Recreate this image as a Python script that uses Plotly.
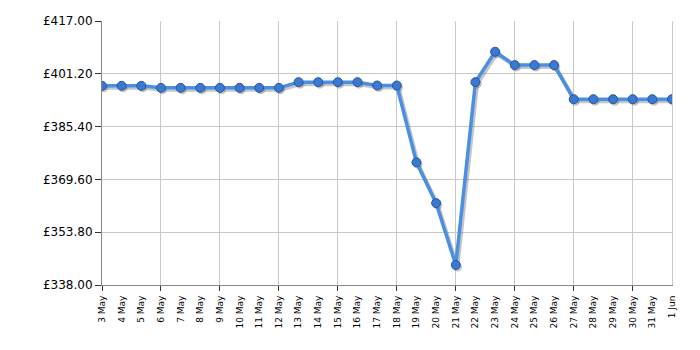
import plotly.graph_objects as go
import pandas as pd

dates = pd.date_range("2024-05-03", "2024-06-01", freq="D")
prices = [397.6, 397.6, 397.6, 397.0, 397.0, 397.0, 397.0, 397.0, 397.0, 397.0,
          398.7, 398.7, 398.7, 398.7, 397.7, 397.7, 374.7, 362.5, 344.0, 398.7,
          407.8, 403.8, 403.8, 403.8, 393.6, 393.6, 393.6, 393.6, 393.6, 393.6]
y_ticks = [338.00, 353.80, 369.60, 385.40, 401.20, 417.00]
y_labels = ["£%.2f" % v for v in y_ticks]

shadow_dx = pd.Timedelta(hours=2)
shadow_dy = 0.6

fig = go.Figure()
fig.add_trace(go.Scatter(
    x=dates + shadow_dx, y=[p - shadow_dy for p in prices], mode="lines+markers",
    line=dict(color="rgba(90,90,90,0.35)", width=4),
    marker=dict(size=9, color="rgba(90,90,90,0.35)"),
    hoverinfo="skip", showlegend=False))
fig.add_trace(go.Scatter(
    x=dates, y=prices, mode="lines+markers",
    line=dict(color="#4a8fe2", width=3.5),
    marker=dict(size=9, color="#3b78d0", line=dict(color="#2a55a0", width=1)),
    showlegend=False))
fig.add_trace(go.Scatter(x=[dates[0], dates[-1]], y=[338, 338], xaxis="x2",
                         mode="lines", line=dict(width=0), hoverinfo="skip", showlegend=False))

xr = [dates[0], dates[-1]]
fig.update_layout(
    width=700, height=350, margin=dict(l=102, r=28, t=21, b=65),
    paper_bgcolor="white", plot_bgcolor="white",
    font=dict(family="DejaVu Sans", color="#000"),
    xaxis=dict(type="date", range=xr, tickmode="array", tickvals=list(dates),
               ticktext=[d.strftime("%-d %b") for d in dates], tickangle=-90,
               tickfont=dict(size=9), showgrid=False, ticks="", showline=True,
               linecolor="#888", linewidth=1, zeroline=False, ticklabelstandoff=6),
    xaxis2=dict(type="date", range=xr, overlaying="x", side="bottom",
                tickmode="array", tickvals=list(dates[::3]), showticklabels=False,
                showgrid=True, gridcolor="#c8c8c8", gridwidth=1,
                ticks="outside", ticklen=5, tickcolor="#333", showline=False, zeroline=False),
    yaxis=dict(range=[338, 417], tickmode="array", tickvals=y_ticks, ticktext=y_labels,
               tickfont=dict(size=12), showgrid=True, gridcolor="#c8c8c8",
               ticks="outside", ticklen=6, tickcolor="#333", showline=True,
               linecolor="#888", linewidth=1, zeroline=False),
    yaxis2=dict(range=[338, 417], overlaying="y", side="right", showticklabels=False,
                showgrid=False, showline=True, linecolor="#c8c8c8", zeroline=False),
)
fig.add_trace(go.Scatter(x=[dates[0]], y=[338], yaxis="y2", mode="markers",
                         marker=dict(size=0, opacity=0), hoverinfo="skip", showlegend=False))
fig.write_html("out.html")
